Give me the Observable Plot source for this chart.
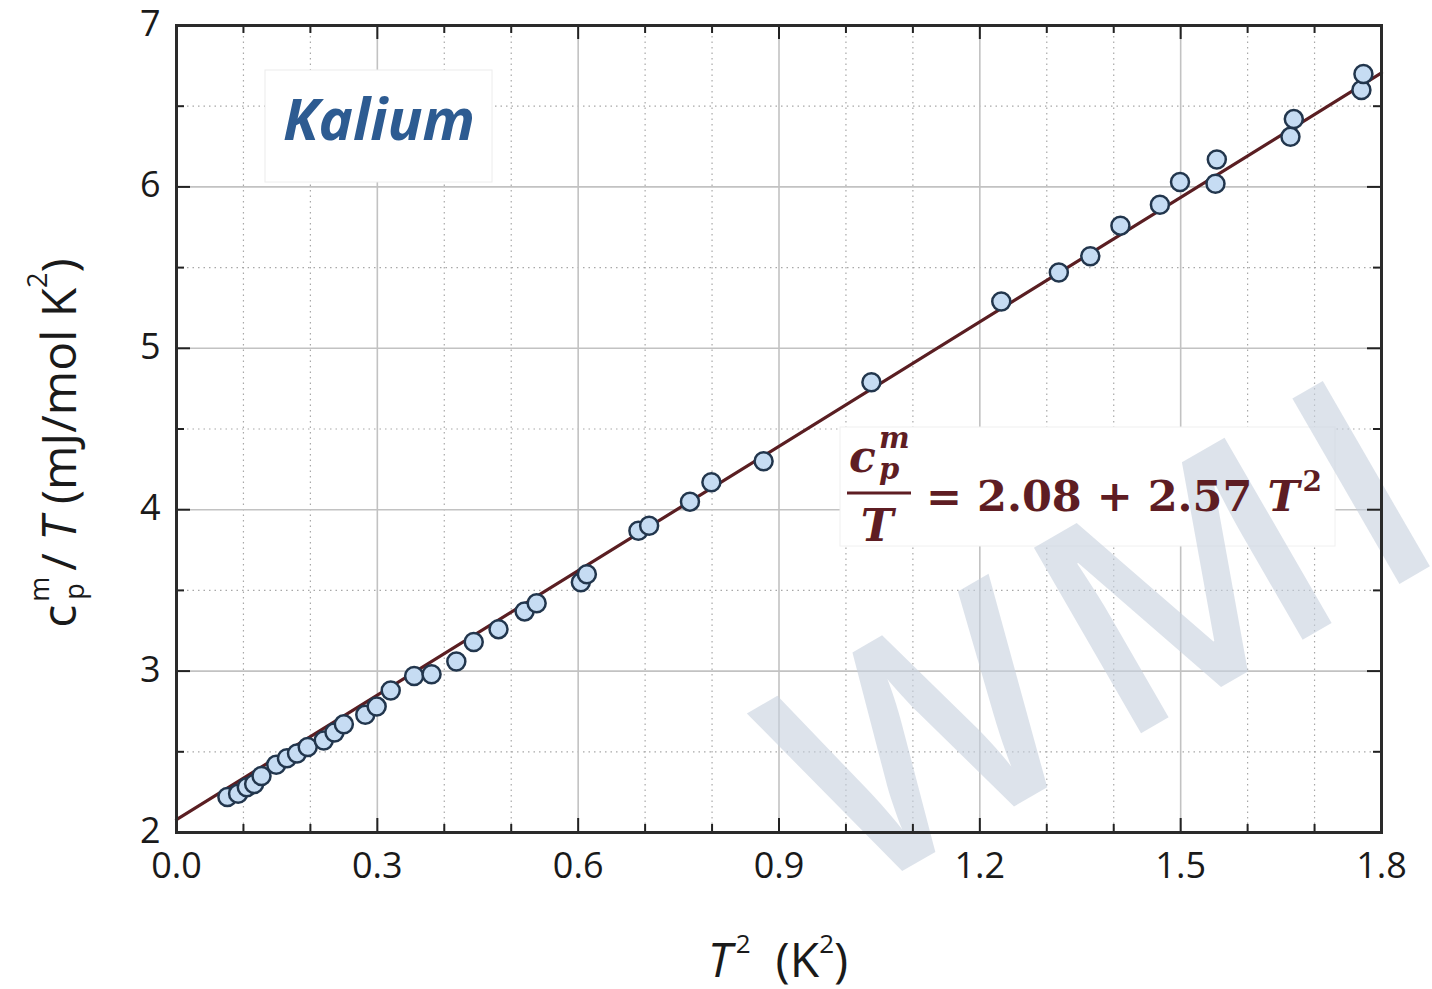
<!DOCTYPE html>
<html>
<head>
<meta charset="utf-8">
<script src="https://cdn.jsdelivr.net/npm/d3@7"></script>
<script src="https://cdn.jsdelivr.net/npm/@observablehq/plot@0.6"></script>
<style>
  html, body { margin: 0; padding: 0; background: #fff; }
  #chart { width: 1432px; height: 989px; }
</style>
</head>
<body>
<div id="chart"></div>
<script>
// ---- data ----
const T2 = [0.076, 0.092, 0.105, 0.116, 0.127, 0.149, 0.165, 0.180, 0.196, 0.220, 0.236, 0.250,
            0.282, 0.299, 0.320, 0.355, 0.381, 0.418, 0.444, 0.481, 0.520, 0.538, 0.604, 0.613,
            0.690, 0.706, 0.767, 0.799, 0.877, 1.038, 1.232, 1.318, 1.365, 1.410, 1.469, 1.499,
            1.552, 1.554, 1.664, 1.669, 1.770, 1.773];
const cpT = [2.22, 2.24, 2.28, 2.30, 2.35, 2.42, 2.46, 2.49, 2.53, 2.57, 2.62, 2.67,
             2.73, 2.78, 2.88, 2.97, 2.98, 3.06, 3.18, 3.26, 3.37, 3.42, 3.55, 3.60,
             3.87, 3.90, 4.05, 4.17, 4.30, 4.79, 5.29, 5.47, 5.57, 5.76, 5.89, 6.03,
             6.02, 6.17, 6.31, 6.42, 6.60, 6.70];
const fitIntercept = 2.08;
const fitSlope = 2.57;
const fitRange = [0, 1.8];
const xMajor = [0, 0.3, 0.6, 0.9, 1.2, 1.5, 1.8];
const xMinor = [0.1, 0.2, 0.4, 0.5, 0.7, 0.8, 1.0, 1.1, 1.3, 1.4, 1.6, 1.7];
const yMajor = [2, 3, 4, 5, 6, 7];
const yMinor = [2.5, 3.5, 4.5, 5.5, 6.5];
const elementLabel = "Kalium";
const watermarkText = "WMI";

// ---- tables built from the arrays ----
const points = T2.map((x, i) => ({x, y: cpT[i]}));
const fit = fitRange.map(x => ({x, y: fitIntercept + fitSlope * x}));

const W = 1432, H = 989, mL = 176, mR = 51, mT = 25, mB = 157;
const innerW = W - mL - mR, innerH = H - mT - mB;
const eqColor = "#5e1d23";

function boxes() {
  const g = d3.create("svg:g");
  g.append("rect").attr("x", 265).attr("y", 70).attr("width", 227).attr("height", 112)
    .attr("fill", "#fff").attr("stroke", "#ececec").attr("stroke-width", 1);
  g.append("rect").attr("x", 840).attr("y", 427).attr("width", 495).attr("height", 119)
    .attr("fill", "#fff").attr("stroke", "#f0f0f0").attr("stroke-width", 1);
  return g.node();
}

function watermark() {
  const g = d3.create("svg:g");
  g.append("text")
    .attr("transform", "translate(852,900) rotate(-30)")
    .attr("text-anchor", "start")
    .attr("font-family", "'Open Sans', sans-serif")
    .attr("font-weight", 600)
    .attr("font-size", 300)
    .attr("letter-spacing", 22)
    .attr("fill", "#c7d0de")
    .attr("fill-opacity", 0.6)
    .text(watermarkText);
  return g.node();
}

function annotations() {
  const g = d3.create("svg:g").attr("text-anchor", "start");
  // element label
  g.append("text")
    .attr("x", 379).attr("y", 140)
    .attr("text-anchor", "middle")
    .attr("font-family", "'Open Sans', sans-serif")
    .attr("font-weight", 700).attr("font-style", "italic")
    .attr("font-size", 58)
    .attr("fill", "#2d5b91")
    .text(elementLabel);

  // equation: fraction
  const eq = g.append("g").attr("fill", eqColor)
    .attr("font-family", "'DejaVu Serif', serif").attr("font-weight", 700);
  eq.append("text").attr("x", 849).attr("y", 472).attr("font-size", 44).attr("font-style", "italic").text("c");
  eq.append("text").attr("x", 879).attr("y", 448).attr("font-size", 29).attr("font-style", "italic").text("m");
  eq.append("text").attr("x", 879).attr("y", 479).attr("font-size", 29).attr("font-style", "italic").text("p");
  eq.append("line").attr("x1", 847).attr("x2", 911).attr("y1", 493).attr("y2", 493)
    .attr("stroke", eqColor).attr("stroke-width", 3);
  eq.append("text").attr("x", 877).attr("y", 541).attr("text-anchor", "middle")
    .attr("font-size", 44).attr("font-style", "italic").text("T");
  const rhs = eq.append("text").attr("x", 926).attr("y", 511).attr("font-size", 43)
    .attr("xml:space", "preserve");
  rhs.append("tspan").text(`= ${fitIntercept.toFixed(2)} + ${fitSlope.toFixed(2)} `);
  rhs.append("tspan").attr("font-style", "italic").text("T");
  rhs.append("tspan").attr("font-size", 28).attr("dy", -20).attr("dx", 3).text("2");

  // axis titles
  const yt = g.append("text")
    .attr("transform", "translate(76,443) rotate(-90)")
    .attr("text-anchor", "middle")
    .attr("font-family", "'Open Sans', sans-serif")
    .attr("font-size", 48).attr("fill", "#1a1a1a")
    .attr("xml:space", "preserve");
  yt.append("tspan").text("c");
  yt.append("tspan").attr("font-size", 27).attr("dy", -27).attr("dx", 3).text("m");
  yt.append("tspan").attr("font-size", 27).attr("dy", 35).attr("dx", -23).text("p");
  yt.append("tspan").attr("dy", -8).text(" / ");
  yt.append("tspan").attr("font-style", "italic").text("T");
  yt.append("tspan").text(" (mJ/mol K");
  yt.append("tspan").attr("font-size", 27).attr("dy", -29).text("2");
  yt.append("tspan").attr("dy", 29).text(")");

  const xt = g.append("text")
    .attr("x", 778).attr("y", 977)
    .attr("text-anchor", "middle")
    .attr("font-family", "'Open Sans', sans-serif")
    .attr("font-size", 48).attr("fill", "#1a1a1a")
    .attr("xml:space", "preserve");
  xt.append("tspan").attr("font-style", "italic").text("T");
  xt.append("tspan").attr("font-size", 26).attr("dy", -24).attr("dx", 4).text("2");
  xt.append("tspan").attr("dy", 24).text("  (K");
  xt.append("tspan").attr("font-size", 26).attr("dy", -24).text("2");
  xt.append("tspan").attr("dy", 24).text(")");
  return g.node();
}

const chart = Plot.plot({
  width: W, height: H,
  marginLeft: mL, marginRight: mR, marginTop: mT, marginBottom: mB,
  x: {domain: [0, 1.8]},
  y: {domain: [2, 7]},
  style: {fontFamily: "'Open Sans', sans-serif", color: "#1a1a1a", background: "#fff", overflow: "visible"},
  marks: [
    Plot.gridX(xMinor, {stroke: "#a8a8a8", strokeOpacity: 1, strokeWidth: 1.2, strokeDasharray: "1.5,4"}),
    Plot.gridY(yMinor, {stroke: "#a8a8a8", strokeOpacity: 1, strokeWidth: 1.2, strokeDasharray: "1.5,4"}),
    Plot.gridX(xMajor, {stroke: "#c2c2c2", strokeOpacity: 1, strokeWidth: 1.6}),
    Plot.gridY(yMajor, {stroke: "#c2c2c2", strokeOpacity: 1, strokeWidth: 1.6}),
    boxes,
    watermark,
    Plot.line(fit, {x: "x", y: "y", stroke: "#5a1e22", strokeWidth: 3.2}),
    Plot.dot(points, {x: "x", y: "y", r: 9, fill: "#c6dcf3", stroke: "#22364d", strokeWidth: 2.5}),
    // inward ticks on all four sides
    Plot.tickX(xMajor, {x: d => d, insetTop: innerH - 14, stroke: "#222", strokeWidth: 2}),
    Plot.tickX(xMinor, {x: d => d, insetTop: innerH - 8, stroke: "#222", strokeWidth: 2}),
    Plot.tickX(xMajor, {x: d => d, insetBottom: innerH - 14, stroke: "#222", strokeWidth: 2}),
    Plot.tickX(xMinor, {x: d => d, insetBottom: innerH - 8, stroke: "#222", strokeWidth: 2}),
    Plot.tickY(yMajor, {y: d => d, insetRight: innerW - 14, stroke: "#222", strokeWidth: 2}),
    Plot.tickY(yMinor, {y: d => d, insetRight: innerW - 8, stroke: "#222", strokeWidth: 2}),
    Plot.tickY(yMajor, {y: d => d, insetLeft: innerW - 14, stroke: "#222", strokeWidth: 2}),
    Plot.tickY(yMinor, {y: d => d, insetLeft: innerW - 8, stroke: "#222", strokeWidth: 2}),
    Plot.frame({stroke: "#2a2a2a", strokeWidth: 3}),
    Plot.axisX(xMajor, {tickSize: 0, tickPadding: 20, tickFormat: d3.format(".1f"), label: null, fontSize: 36}),
    Plot.axisY(yMajor, {tickSize: 0, tickPadding: 16, tickFormat: d3.format("d"), label: null, fontSize: 36, dy: -1}),
    annotations
  ]
});
document.getElementById("chart").appendChild(chart);
</script>
</body>
</html>
